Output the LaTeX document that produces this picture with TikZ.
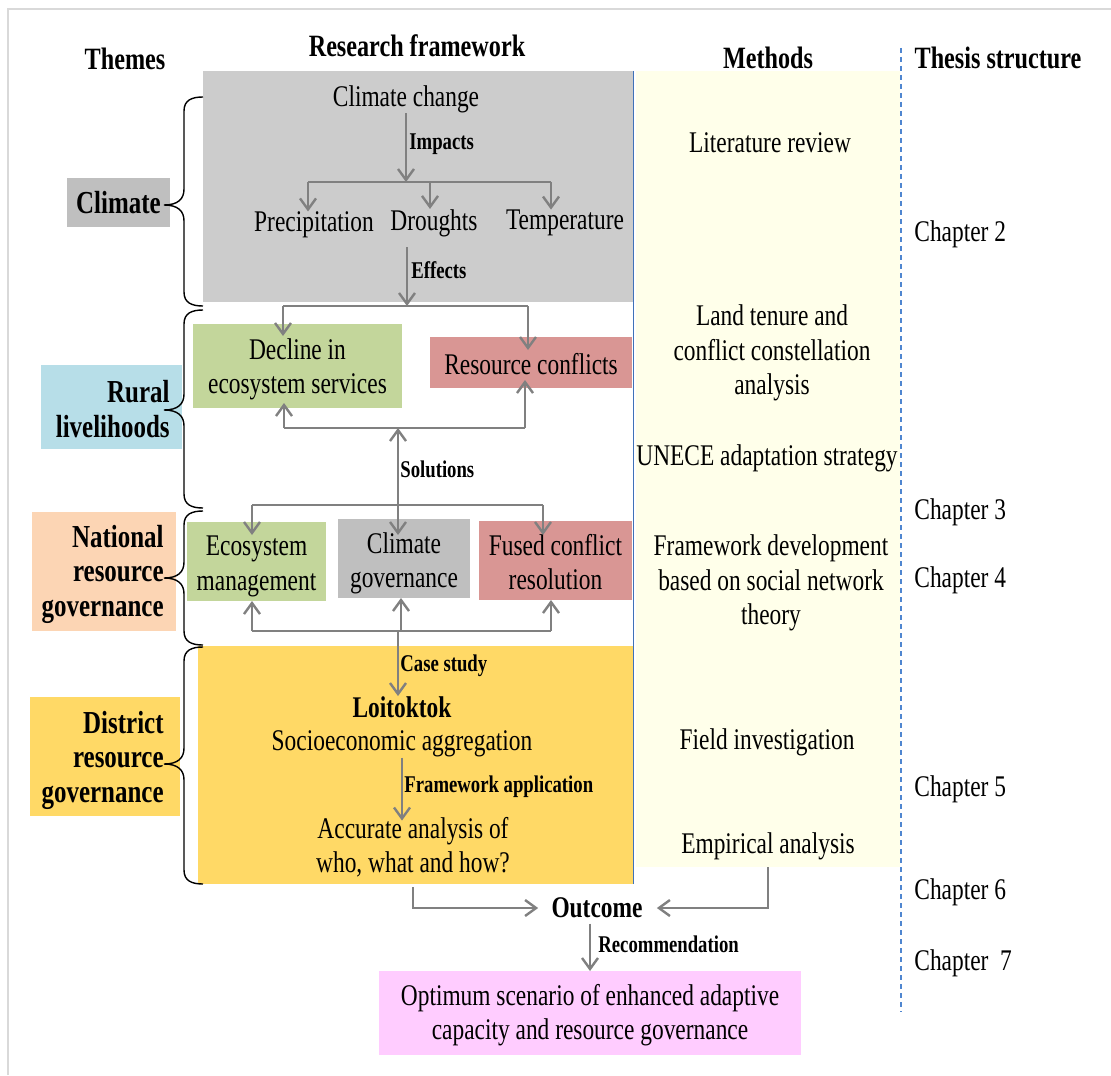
\documentclass[tikz,border=0pt]{standalone}
\usepackage{fontspec}
\setmainfont{Liberation Serif}[FakeStretch=0.78]
\usetikzlibrary{arrows.meta}

\definecolor{connector}{HTML}{808080}
\definecolor{fwgray}{HTML}{CCCCCC}
\definecolor{midgray}{HTML}{BFBFBF}
\definecolor{ecogreen}{HTML}{C3D69B}
\definecolor{conflictred}{HTML}{D99694}
\definecolor{ruralblue}{HTML}{B7DEE8}
\definecolor{nationalpeach}{HTML}{FCD5B4}
\definecolor{districtyellow}{HTML}{FFD966}
\definecolor{outcomepink}{HTML}{FFCCFF}
\definecolor{methodcream}{HTML}{FFFFEA}
\definecolor{rulerblue}{HTML}{3F72B8}
\definecolor{dashblue}{HTML}{4F86D0}
\definecolor{framegray}{HTML}{D9D9D9}

% curly brace opening to the right: top y, tip y, bottom y
\newcommand\thbrace[3]{%
  \draw[bracepen] (203,#1) .. controls (192,#1) and (184,{#1+3}) .. (184,{#1+14})
    -- (184,{#2-16}) .. controls (184,{#2-6}) and (178,#2) .. (164,#2)
    .. controls (178,#2) and (184,{#2+6}) .. (184,{#2+16})
    -- (184,{#3-14}) .. controls (184,{#3-3}) and (192,#3) .. (203,#3);}

\begin{document}
\begin{tikzpicture}[x=0.5pt, y=-0.5pt,
  txt/.style={font=\fontsize{15}{17.2}\selectfont, inner sep=0pt, align=center},
  boldtxt/.style={font=\fontsize{15}{17.2}\selectfont\bfseries, inner sep=0pt, align=center},
  head/.style={font=\fontsize{15.5}{18}\selectfont\bfseries, inner sep=0pt},
  theme/.style={font=\fontsize{16}{17.25}\selectfont\bfseries, inner sep=0pt, align=right},
  tag/.style={font=\fontsize{12}{14}\selectfont\bfseries, inner sep=0pt, anchor=west},
  chap/.style={font=\fontsize{15}{17}\selectfont, inner sep=0pt, anchor=west},
  panel/.style={inner sep=0pt, outer sep=0pt, draw=none},
  wire/.style={draw=connector, line width=1.2pt},
  arr/.style={wire, -{Straight Barb[length=5.5pt,width=8pt]}},
  bracepen/.style={draw=black, line width=0.7pt},
]
\fill[white] (0,0) rectangle (1111,1075);
\useasboundingbox (0,0) rectangle (1111,1075);
\draw[framegray, line width=1.2pt] (8,1075) -- (8,9) -- (1111,9);

% column panels
\node[panel, fill=methodcream, minimum width=132pt, minimum height=398pt] (methods) at (768,469) {};
\node[panel, fill=fwgray, minimum width=215pt, minimum height=115.5pt] (fwclimate) at (418,186.5) {};
\node[panel, fill=districtyellow, minimum width=217.5pt, minimum height=119pt] (fwdistrict) at (415.5,765) {};
\draw[rulerblue, line width=0.5pt] (fwclimate.north east) -- (fwclimate.north east |- fwdistrict.south);
\draw[dashblue, line width=0.6pt, dash pattern=on 2.5pt off 2pt] (901,48) -- (901,1012);

% headers
\node[head] (hthemes) at (125,59) {Themes};
\node[head] (hframe) at (417,46) {Research framework};
\node[head] (hmethods) at (768,58) {Methods};
\node[head] (hthesis) at (998,58) {Thesis structure};

% themes
\node[panel, theme, align=center, fill=midgray, minimum width=51.5pt, minimum height=24.5pt] (thclim) at (118.5,202.5) {Climate};
\node[panel, fill=ruralblue, minimum width=70.5pt, minimum height=42pt] (thrural) at (111.5,407) {};
\node[theme, anchor=east] (thruralt) at (170,409) {Rural\\livelihoods};
\node[panel, fill=nationalpeach, minimum width=72pt, minimum height=59.5pt] (thnat) at (104,571.5) {};
\node[theme, anchor=east] (thnatt) at (164,574) {National\\resource\\governance};
\node[panel, fill=districtyellow, minimum width=75pt, minimum height=59.5pt] (thdist) at (105,756.5) {};
\node[theme, anchor=east] (thdistt) at (164,760) {District\\resource\\governance};

\thbrace{97}{205}{306}
\thbrace{310}{410}{508}
\thbrace{511}{578}{645}
\thbrace{647}{764}{884}

% climate tier
\node[txt] (cc) at (406,99) {Climate change};
\node[txt] (prec) at (314,225) {Precipitation};
\node[txt] (drou) at (434,223) {Droughts};
\node[txt] (temp) at (565,223) {Temperature};
\coordinate (imp) at (406,182);
\coordinate (impL) at (308,182);
\coordinate (impM) at (430,182);
\coordinate (impR) at (551,182);
\draw[arr] (cc.south -| imp) -- (imp);
\draw[wire] (impL) -- (impR);
\draw[arr] (impL) -- (impL |- prec.north);
\draw[arr] (impM) -- (impM |- drou.north);
\draw[arr] (impR) -- (impR |- temp.north);
\node[tag] (timp) at (409,144) {Impacts};

\coordinate (eff) at (407,306);
\coordinate (effL) at (283,306);
\coordinate (effR) at (528,306);
\draw[arr] ([yshift=-5pt]drou.south -| eff) -- (eff);
\node[tag] (teff) at (411,270) {Effects};
\draw[wire] (effL) -- (effR);

% rural livelihoods tier
\node[panel, fill=ecogreen, minimum width=104.5pt, minimum height=42pt] (decl) at (297.5,366) {};
\node[txt] (declt) at ([yshift=-1.8pt]decl.center) {Decline in\\ecosystem services};
\node[panel, fill=conflictred, minimum width=101pt, minimum height=25.5pt] (rconf) at (531,362.5) {};
\node[txt] (rconft) at ([yshift=-1pt]rconf.center) {Resource conflicts};
\draw[arr, shorten >=-6pt] (effL) -- (effL |- decl.north);
\draw[arr, shorten >=-6.5pt] (effR) -- (effR |- rconf.north);

\coordinate (solL) at (284,428);
\coordinate (solM) at (398,428);
\coordinate (solR) at (525,428);
\draw[wire] (solL) -- (solR);
\draw[arr, shorten >=-2.5pt] (solL) -- (solL |- decl.south);
\draw[arr, shorten >=-4pt] (solR) -- (solR |- rconf.south);

% national governance tier
\node[panel, fill=ecogreen, minimum width=69.5pt, minimum height=39.5pt] (ecom) at (256.5,561.5) {};
\node[txt] (ecomt) at ([yshift=-2.5pt]ecom.center) {Ecosystem\\management};
\node[panel, fill=midgray, minimum width=66pt, minimum height=39.5pt] (cgov) at (404,558.5) {};
\node[txt] (cgovt) at ([yshift=-2.5pt]cgov.center) {Climate\\governance};
\node[panel, fill=conflictred, minimum width=76.5pt, minimum height=39.5pt] (fused) at (555.5,560.5) {};
\node[txt] (fusedt) at ([yshift=-0.8pt]fused.center) {Fused conflict\\resolution};
\coordinate (gov) at (398,505);
\coordinate (govL) at (252,505);
\coordinate (govR) at (543,505);
\draw[arr] (gov) -- (solM);
\draw[wire] (govL) -- (govR);
\draw[arr, shorten >=-6.5pt] (govL) -- (govL |- ecom.north);
\draw[arr, shorten >=-8pt] (gov) -- (gov |- cgov.north);
\draw[arr, shorten >=-7pt] (govR) -- (govR |- fused.north);
\node[tag] (tsol) at (400,469) {Solutions};

\coordinate (csL) at (252,631);
\coordinate (csM) at (401,631);
\coordinate (csR) at (551,631);
\coordinate (cs) at (398,631);
\draw[wire] (csL) -- (csR);
\draw[arr] (csL) -- (csL |- ecom.south);
\draw[arr] (csM) -- (csM |- cgov.south);
\draw[arr] (csR) -- (csR |- fused.south);

% district tier
\node[boldtxt] (loit) at (402,707) {Loitoktok};
\draw[arr] (cs) -- (cs |- loit.north);
\node[tag] (tcase) at (400,666) {Case study};
\node[txt] (socio) at (402,744) {Socioeconomic aggregation};
\node[txt] (acc) at (413,847) {Accurate analysis of\\who, what and how?};
\draw[arr, shorten >=-2pt] (socio.south) -- (socio.south |- acc.north);
\node[tag] (tfa) at (404,787) {Framework application};

% outcome
\node[boldtxt] (outc) at (597,908) {Outcome};
\draw[arr, shorten >=6.5pt] ([yshift=-1.5pt]fwdistrict.south -| acc.south) |- (outc.west);
\node[panel, fill=outcomepink, minimum width=211pt, minimum height=42pt] (opt) at (590,1013) {};
\node[txt] (optt) at ([yshift=-1pt]opt.center) {Optimum scenario of enhanced adaptive\\capacity and resource governance};
\draw[arr] ([yshift=-2.5pt]opt.north |- outc.south) -- (opt.north);
\node[tag] (trec) at (598,944) {Recommendation};

% methods
\node[txt] (mlit) at (770,143) {Literature review};
\node[txt] (mland) at (772,353) {Land tenure and\\conflict constellation\\analysis};
\node[txt] (munece) at (767,458) {UNECE adaptation strategy};
\node[txt] (mframe) at (771,583) {Framework development\\based on social network\\theory};
\node[txt] (mfield) at (767,742) {Field investigation};
\node[txt] (memp) at (768,846) {Empirical analysis};
\draw[arr, shorten >=7pt] (methods.south -| memp) |- (outc.east);

% thesis structure
\node[chap] (ch2) at (914,234) {Chapter 2};
\node[chap] (ch3) at (914,512) {Chapter 3};
\node[chap] (ch4) at (914,580) {Chapter 4};
\node[chap] (ch5) at (914,789) {Chapter 5};
\node[chap] (ch6) at (914,892) {Chapter 6};
\node[chap] (ch7) at (914,963) {Chapter\ \ 7};
\end{tikzpicture}
\end{document}
